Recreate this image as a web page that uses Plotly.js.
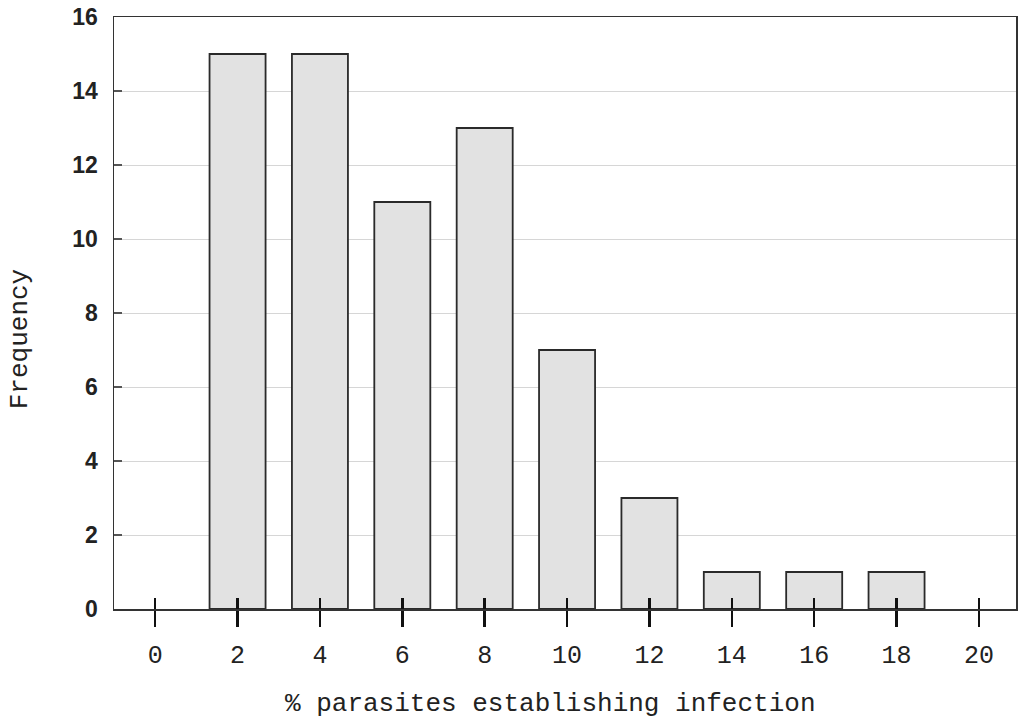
<!DOCTYPE html>
<html><head><meta charset="utf-8">
<script src="https://cdn.plot.ly/plotly-3.0.1.min.js"></script>
<style>html,body{margin:0;padding:0;background:#fff}#chart{width:1018px;height:724px}</style>
</head><body><div id="chart"></div>
<script>
const percentBins = [2, 4, 6, 8, 10, 12, 14, 16, 18];
const frequency = [15, 15, 11, 13, 7, 3, 1, 1, 1];
const xTickValues = [0, 2, 4, 6, 8, 10, 12, 14, 16, 18, 20];
const yTickValues = [0, 2, 4, 6, 8, 10, 12, 14, 16];
const xTitle = '% parasites establishing infection';
const yTitle = 'Frequency';

const mono = 'Liberation Mono, Courier New, monospace';
const sans = 'Liberation Sans, Arial, sans-serif';
const xRange = [-1.0, 20.9];

const bars = {
  type: 'bar', x: percentBins, y: frequency, width: 1.36,
  marker: {color: '#e2e2e2', line: {color: '#2a2a2a', width: 1.8}},
  hoverinfo: 'x+y'
};
// empty helper trace so the overlaid tick axis is drawn
const tickHelper = {
  type: 'scatter', mode: 'markers', xaxis: 'x2', yaxis: 'y',
  x: xTickValues, y: xTickValues.map(() => null), hoverinfo: 'skip', showlegend: false
};

const layout = {
  width: 1018, height: 724,
  margin: {l: 114, r: 2, t: 17, b: 115},
  paper_bgcolor: '#fff', plot_bgcolor: '#fff',
  showlegend: false, bargap: 0,
  xaxis: {
    range: xRange, tickvals: xTickValues, ticktext: xTickValues.map(String),
    ticks: 'outside', ticklen: 16, tickwidth: 2.5, tickcolor: '#111',
    showline: true, linecolor: '#333', linewidth: 1.5, mirror: true,
    showgrid: false, zeroline: false, ticklabelstandoff: 6,
    tickfont: {family: mono, size: 25, color: '#222'}
  },
  xaxis2: {
    range: xRange, overlaying: 'x', anchor: 'y', side: 'bottom',
    tickvals: xTickValues, ticks: 'inside', ticklen: 11, tickwidth: 2.5, tickcolor: '#111',
    showticklabels: false, showgrid: false, zeroline: false, showline: false
  },
  yaxis: {
    range: [0, 16], tickvals: yTickValues, ticktext: yTickValues.map(String),
    ticks: 'inside', ticklen: 8, tickwidth: 1.5, tickcolor: '#555',
    showline: true, linecolor: '#333', linewidth: 1.5, mirror: true,
    showgrid: true, gridcolor: '#d6d6d6', gridwidth: 1, zeroline: false,
    ticklabelstandoff: 10,
    tickfont: {family: sans, size: 23, color: '#222', weight: 'bold'}
  },
  annotations: [
    {text: xTitle, xref: 'paper', yref: 'paper', x: 0.484, y: -0.16,
     xanchor: 'center', yanchor: 'middle', showarrow: false,
     font: {family: mono, size: 26, color: '#222'}},
    {text: yTitle, xref: 'paper', yref: 'paper', x: -0.104, y: 0.456,
     xanchor: 'center', yanchor: 'middle', showarrow: false, textangle: -90,
     font: {family: mono, size: 26, color: '#222'}}
  ]
};

Plotly.newPlot('chart', [bars, tickHelper], layout, {displayModeBar: false, staticPlot: true});
</script></body></html>
